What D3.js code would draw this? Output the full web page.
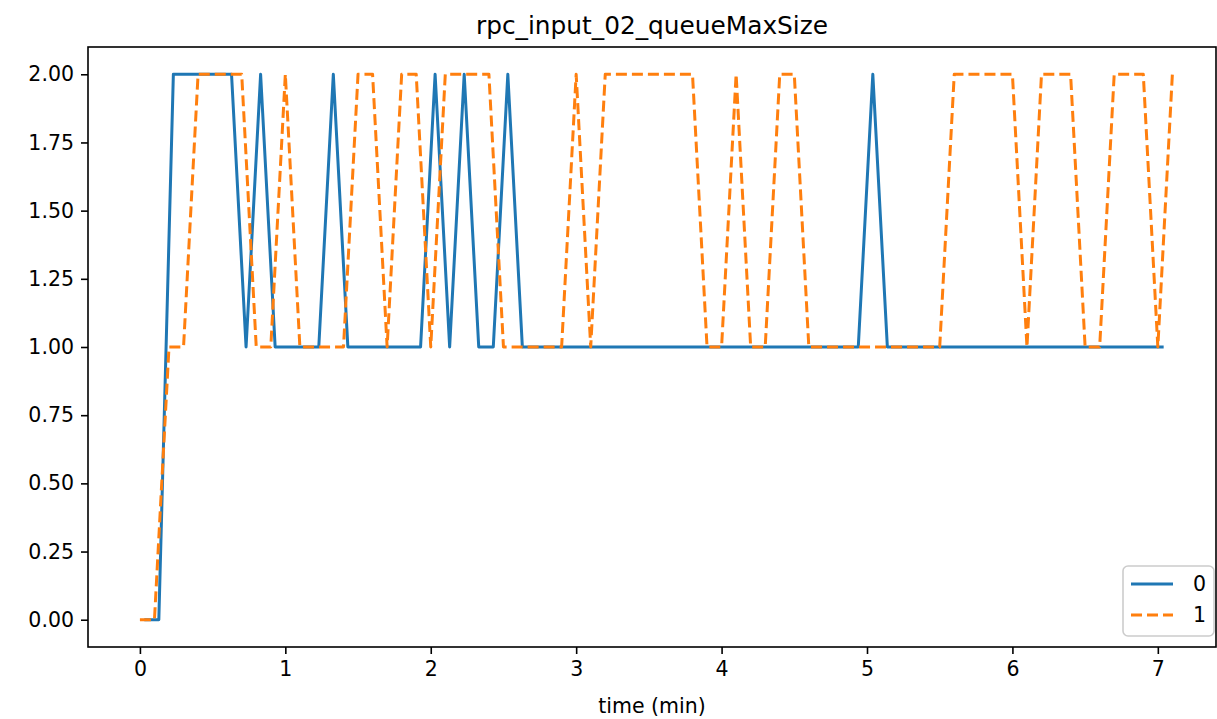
<!DOCTYPE html>
<html>
<head>
<meta charset="utf-8">
<script src="https://cdn.jsdelivr.net/npm/d3@7"></script>
<style>
  body { margin: 0; background: #fff; }
  text { font-family: "DejaVu Sans", sans-serif; fill: #000; }
</style>
</head>
<body>
<script>
var width = 1217;
var height = 719;
var margin = {top: 47, left: 88, right: 1, bottom: 72};

// series "0"
var times0 = [0.03,0.13,0.23,0.33,0.43,0.53,0.63,0.73,0.83,0.93,
  1.03,1.13,1.23,1.33,1.43,1.53,1.63,1.73,1.83,1.93,
  2.03,2.13,2.23,2.33,2.43,2.53,2.63,2.73,2.83,2.93,
  3.03,3.13,3.23,3.33,3.43,3.54,3.64,3.74,3.84,3.94,
  4.04,4.14,4.24,4.34,4.44,4.54,4.64,4.74,4.84,4.94,
  5.04,5.14,5.24,5.34,5.44,5.54,5.64,5.74,5.84,5.94,
  6.04,6.14,6.24,6.34,6.44,6.54,6.64,6.74,6.84,6.94,7.04];
var values0 = [0,0,2,2,2,2,2,1,2,1,
  1,1,1,2,1,1,1,1,1,1,
  2,1,2,1,1,2,1,1,1,1,
  1,1,1,1,1,1,1,1,1,1,
  1,1,1,1,1,1,1,1,1,1,
  2,1,1,1,1,1,1,1,1,1,
  1,1,1,1,1,1,1,1,1,1,1];

// series "1"
var times1 = [0.0,0.1,0.2,0.3,0.4,0.5,0.6,0.7,0.8,0.9,
  1.0,1.1,1.2,1.3,1.4,1.5,1.6,1.7,1.8,1.9,
  2.0,2.1,2.2,2.3,2.4,2.5,2.6,2.7,2.8,2.9,
  3.0,3.1,3.2,3.3,3.4,3.5,3.6,3.7,3.8,3.9,
  4.0,4.1,4.2,4.3,4.4,4.5,4.6,4.7,4.8,4.9,
  5.0,5.1,5.2,5.3,5.4,5.5,5.6,5.7,5.8,5.9,
  6.0,6.1,6.2,6.3,6.4,6.5,6.6,6.7,6.8,6.9,7.0,7.1];
var values1 = [0,0,1,1,2,2,2,2,1,1,
  2,1,1,1,1,2,2,1,2,2,
  1,2,2,2,2,1,1,1,1,1,
  2,1,2,2,2,2,2,2,2,1,
  1,2,1,1,2,2,1,1,1,1,
  1,1,1,1,1,1,2,2,2,2,
  2,1,2,2,2,1,1,2,2,2,1,2];

var xTicks = [0,1,2,3,4,5,6,7];
var yTicks = [0,0.25,0.5,0.75,1,1.25,1.5,1.75,2];
var seriesNames = ["0","1"];
var colors = ["#1f77b4","#ff7f0e"];

var svg = d3.select("body")
  .append("svg")
  .attr("width",width)
  .attr("height",height);

var xScale = d3.scaleLinear()
  .domain([-0.357,7.40])
  .range([margin.left, width-margin.right]);

var yScale = d3.scaleLinear()
  .domain([-0.1,2.1])
  .range([height-margin.bottom, margin.top]);

var xAxis = svg.append("g")
  .attr("transform",`translate(0,${height-margin.bottom})`)
  .call(d3.axisBottom(xScale).tickValues(xTicks).tickFormat(d3.format("d")).tickSize(7).tickPadding(7));

var yAxis = svg.append("g")
  .attr("transform",`translate(${margin.left},0)`)
  .call(d3.axisLeft(yScale).tickValues(yTicks).tickFormat(d3.format(".2f")).tickSize(7).tickPadding(7));

[xAxis, yAxis].forEach(function(a) {
  a.select(".domain").remove();
  a.selectAll("line").attr("stroke","#000").attr("stroke-width",1.6);
  a.selectAll("text").attr("font-size",20.5).attr("font-family","DejaVu Sans");
});

var line = d3.line()
  .x(function(d) { return xScale(d[0]); })
  .y(function(d) { return yScale(d[1]); });

var data0 = d3.zip(times0, values0);
var data1 = d3.zip(times1, values1);

svg.append("path")
  .datum(data0)
  .attr("d", line)
  .attr("fill","none")
  .attr("stroke",colors[0])
  .attr("stroke-width",3)
  .attr("stroke-linejoin","round");

svg.append("path")
  .datum(data1)
  .attr("d", line)
  .attr("fill","none")
  .attr("stroke",colors[1])
  .attr("stroke-width",3)
  .attr("stroke-dasharray","11,5")
  .attr("stroke-linejoin","round");

// frame
svg.append("rect")
  .attr("x",margin.left)
  .attr("y",margin.top)
  .attr("width",width-margin.right-margin.left)
  .attr("height",height-margin.bottom-margin.top)
  .attr("fill","none")
  .attr("stroke","#000")
  .attr("stroke-width",1.6);

svg.append("text")
  .attr("x",(margin.left+width-margin.right)/2)
  .attr("y",34)
  .attr("text-anchor","middle")
  .attr("font-size",24.8)
  .text("rpc_input_02_queueMaxSize");

svg.append("text")
  .attr("x",(margin.left+width-margin.right)/2)
  .attr("y",713)
  .attr("text-anchor","middle")
  .attr("font-size",20.5)
  .text("time (min)");

// legend
var legend = svg.append("g").attr("transform","translate(1123,566)");
legend.append("rect")
  .attr("width",91).attr("height",70)
  .attr("rx",5)
  .attr("fill","#fff").attr("fill-opacity",0.8)
  .attr("stroke","#ccc").attr("stroke-width",1.6);

seriesNames.forEach(function(name, i) {
  var y = 18 + i*31;
  legend.append("line")
    .attr("x1",8).attr("x2",50)
    .attr("y1",y).attr("y2",y)
    .attr("stroke",colors[i])
    .attr("stroke-width",3)
    .attr("stroke-dasharray", i == 1 ? "11,5" : null);
  legend.append("text")
    .attr("x",70).attr("y",y+7)
    .attr("font-size",20.5)
    .text(name);
});
</script>
</body>
</html>
